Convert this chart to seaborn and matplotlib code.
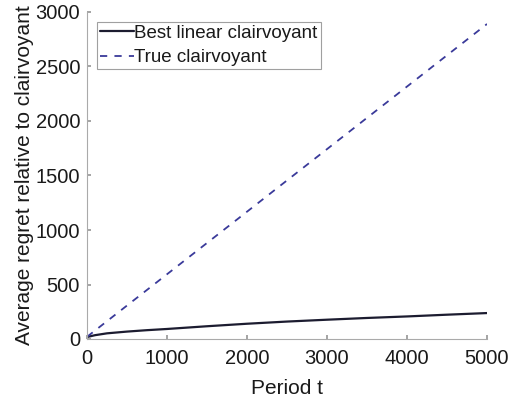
import matplotlib
matplotlib.use("Agg")
import matplotlib.pyplot as plt
import seaborn as sns
import pandas as pd

# Average regret over time
periods = [0, 100, 250, 500, 750, 1000, 1500, 2000, 2500, 3000, 3500, 4000, 4500, 5000]
best_linear = [18, 35, 52, 68, 81, 92, 117, 140, 160, 177, 193, 207, 223, 238]
true_period = [0, 5000]
true_clairvoyant = [20, 2890]

sns.set_theme(style="white")
plt.rcParams["font.family"] = ["Liberation Sans", "DejaVu Sans"]
plt.rcParams["text.color"] = "#1a1a1a"
plt.rcParams["axes.labelcolor"] = "#1a1a1a"
plt.rcParams["xtick.color"] = "#1a1a1a"
plt.rcParams["ytick.color"] = "#1a1a1a"

fig = plt.figure(figsize=(5.13, 4.04), dpi=100)
ax = fig.add_axes([87 / 513, (404 - 339) / 404, 400 / 513, 327 / 404])

df_best = pd.DataFrame({"t": periods, "regret": best_linear})
df_true = pd.DataFrame({"t": true_period, "regret": true_clairvoyant})

sns.lineplot(data=df_best, x="t", y="regret", ax=ax, color="#1c1c30",
             linewidth=1.6, label="Best linear clairvoyant")
sns.lineplot(data=df_true, x="t", y="regret", ax=ax, color="#3a3a9a",
             linewidth=1.3, linestyle=(0, (4, 4)), label="True clairvoyant")

ax.set_xlim(0, 5000)
ax.set_ylim(0, 3000)
ax.set_xticks([0, 1000, 2000, 3000, 4000, 5000])
ax.set_yticks([0, 500, 1000, 1500, 2000, 2500, 3000])
ax.set_xlabel("Period t", fontsize=15, labelpad=8)
ax.set_ylabel("Average regret relative to clairvoyant", fontsize=15, labelpad=1)
ax.tick_params(axis="both", labelsize=14.5, direction="in", length=3,
               color="#999999", left=True, bottom=True)
ax.tick_params(axis="x", pad=7)
ax.tick_params(axis="y", pad=5)
for side in ["top", "right"]:
    ax.spines[side].set_visible(False)
for side in ["left", "bottom"]:
    ax.spines[side].set_color("#aaaaaa")
    ax.spines[side].set_linewidth(0.8)

leg = ax.legend(loc="upper left", fontsize=13.5, frameon=True, fancybox=False,
                handlelength=1.8, handletextpad=0.05, borderpad=0.15,
                borderaxespad=0.0, labelspacing=0.38,
                bbox_to_anchor=(10 / 400, 1 - 10 / 327))
leg.get_frame().set_edgecolor("#888888")
leg.get_frame().set_linewidth(0.8)

fig.savefig("out.png", dpi=100)
